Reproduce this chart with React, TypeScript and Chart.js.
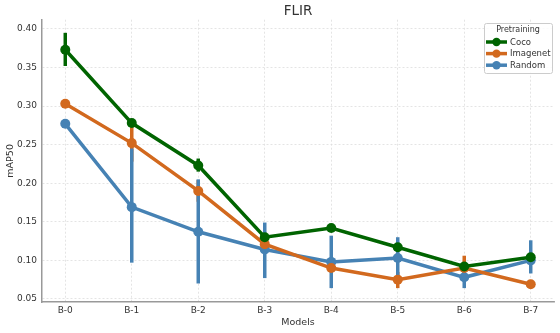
import React, { useEffect, useRef } from "react";
import { Chart, registerables } from "chart.js";

Chart.register(...registerables);

const MODELS = ["B-0", "B-1", "B-2", "B-3", "B-4", "B-5", "B-6", "B-7"];
const Y_TICKS = [0.05, 0.1, 0.15, 0.2, 0.25, 0.3, 0.35, 0.4];

const COCO = [0.373, 0.278, 0.223, 0.13, 0.142, 0.117, 0.092, 0.104];
const COCO_LOW = [0.352, 0.273, 0.215, 0.126, 0.139, 0.113, 0.089, 0.1];
const COCO_HIGH = [0.395, 0.283, 0.232, 0.134, 0.145, 0.121, 0.095, 0.108];

const IMAGENET = [0.303, 0.252, 0.19, 0.121, 0.09, 0.075, 0.09, 0.069];
const IMAGENET_LOW = [0.298, 0.228, 0.176, 0.116, 0.085, 0.064, 0.08, 0.065];
const IMAGENET_HIGH = [0.308, 0.2775, 0.204, 0.126, 0.095, 0.085, 0.106, 0.073];

const RANDOM = [0.277, 0.169, 0.137, 0.114, 0.098, 0.103, 0.078, 0.1];
const RANDOM_LOW = [0.272, 0.097, 0.07, 0.077, 0.064, 0.078, 0.064, 0.083];
const RANDOM_HIGH = [0.282, 0.245, 0.205, 0.149, 0.132, 0.13, 0.09, 0.126];

const SERIES = [
  { name: "Coco", color: "#006400", values: COCO, low: COCO_LOW, high: COCO_HIGH },
  { name: "Imagenet", color: "#D2691E", values: IMAGENET, low: IMAGENET_LOW, high: IMAGENET_HIGH },
  { name: "Random", color: "#4682B4", values: RANDOM, low: RANDOM_LOW, high: RANDOM_HIGH },
];

const FONT = "'DejaVu Sans', sans-serif";
const TEXT = "#333333";

const errorBarPlugin = {
  id: "errorBars",
  beforeDatasetsDraw(chart: any) {
    const { ctx } = chart;
    const x = chart.scales.x;
    const y = chart.scales.y;
    ctx.save();
    SERIES.forEach((s) => {
      ctx.strokeStyle = s.color;
      ctx.lineWidth = 3.5;
      ctx.lineCap = "butt";
      s.low.forEach((lo, i) => {
        const px = x.getPixelForValue(i);
        ctx.beginPath();
        ctx.moveTo(px, y.getPixelForValue(lo));
        ctx.lineTo(px, y.getPixelForValue(s.high[i]));
        ctx.stroke();
      });
    });
    ctx.restore();
  },
};

const legendPlugin = {
  id: "customLegend",
  afterDraw(chart: any) {
    const { ctx, chartArea } = chart;
    const right = chartArea.right - 2;
    const boxW = 68;
    const left = right - boxW;
    const top = 23;
    const boxH = 50;
    ctx.save();
    ctx.fillStyle = "rgba(255,255,255,0.85)";
    ctx.strokeStyle = "#cccccc";
    ctx.lineWidth = 1;
    ctx.beginPath();
    if (ctx.roundRect) ctx.roundRect(left + 0.5, top + 0.5, boxW, boxH, 2);
    else ctx.rect(left + 0.5, top + 0.5, boxW, boxH);
    ctx.fill();
    ctx.stroke();
    ctx.fillStyle = TEXT;
    ctx.font = `8px ${FONT}`;
    ctx.textAlign = "center";
    ctx.textBaseline = "middle";
    ctx.fillText("Pretraining", left + boxW / 2, top + 7);
    SERIES.forEach((s, i) => {
      const cy = top + 19 + i * 11.6;
      const x0 = left + 2;
      const x1 = left + 23;
      ctx.strokeStyle = s.color;
      ctx.lineWidth = 3.5;
      ctx.beginPath();
      ctx.moveTo(x0, cy);
      ctx.lineTo(x1, cy);
      ctx.stroke();
      ctx.fillStyle = s.color;
      ctx.beginPath();
      ctx.arc((x0 + x1) / 2, cy, 4.2, 0, Math.PI * 2);
      ctx.fill();
      ctx.fillStyle = TEXT;
      ctx.textAlign = "left";
      ctx.font = `8.5px ${FONT}`;
      ctx.fillText(s.name, x1 + 3, cy + 0.5);
    });
    ctx.restore();
  },
};

export default function App() {
  const ref = useRef<HTMLCanvasElement | null>(null);
  useEffect(() => {
    if (!ref.current) return;
    const chart = new Chart(ref.current, {
      type: "line",
      data: {
        datasets: SERIES.map((s) => ({
          label: s.name,
          data: s.values.map((v, i) => ({ x: i, y: v })),
          borderColor: s.color,
          backgroundColor: s.color,
          borderWidth: 3.5,
          pointRadius: 5,
          pointBorderWidth: 0,
          pointBackgroundColor: s.color,
          fill: false,
          tension: 0,
        })),
      },
      options: {
        animation: false,
        responsive: false,
        maintainAspectRatio: false,
        layout: { padding: { left: 4, right: 6, top: 0, bottom: 0 } },
        plugins: {
          legend: { display: false },
          tooltip: { enabled: false },
          title: {
            display: true,
            text: "FLIR",
            fullSize: false,
            color: TEXT,
            font: { family: FONT, size: 13.5, weight: "normal" },
            padding: { top: 3, bottom: 0.5 },
          },
        },
        scales: {
          x: {
            type: "linear",
            min: -0.35,
            max: 7.35,
            afterBuildTicks: (scale: any) => {
              scale.ticks = MODELS.map((_, i) => ({ value: i }));
            },
            afterFit: (scale: any) => {
              scale.height = 31;
            },
            ticks: {
              callback: (v: any) => MODELS[Math.round(Number(v))] ?? "",
              color: TEXT,
              font: { family: FONT, size: 9 },
              padding: 3,
              maxRotation: 0,
              autoSkip: false,
            },
            grid: { color: "#dddddd", drawTicks: false, lineWidth: 0.8 },
            border: { display: true, color: "#999999", width: 1.5, dash: [2, 2] },
            title: {
              display: true,
              text: "Models",
              color: TEXT,
              font: { family: FONT, size: 9.5 },
              padding: { top: 0, bottom: 5 },
            },
          },
          y: {
            type: "linear",
            min: 0.046,
            max: 0.412,
            afterBuildTicks: (scale: any) => {
              scale.ticks = Y_TICKS.map((v) => ({ value: v }));
            },
            afterFit: (scale: any) => {
              scale.width = 38;
            },
            ticks: {
              callback: (v: any) => Number(v).toFixed(2),
              color: TEXT,
              font: { family: FONT, size: 9 },
              padding: 5,
            },
            grid: { color: "#dddddd", drawTicks: false, lineWidth: 0.8 },
            border: { display: true, color: "#999999", width: 1.5, dash: [2, 2] },
            title: {
              display: true,
              text: "mAP50",
              color: TEXT,
              font: { family: FONT, size: 9.5 },
              padding: { top: 1, bottom: 0 },
            },
          },
        },
      },
      plugins: [errorBarPlugin, legendPlugin],
    });
    return () => chart.destroy();
  }, []);
  return (
    <div style={{ position: "absolute", left: 0, top: 0, width: 560, height: 333, background: "#ffffff" }}>
      <canvas ref={ref} width={560} height={333} style={{ width: 560, height: 333, display: "block" }} />
    </div>
  );
}
